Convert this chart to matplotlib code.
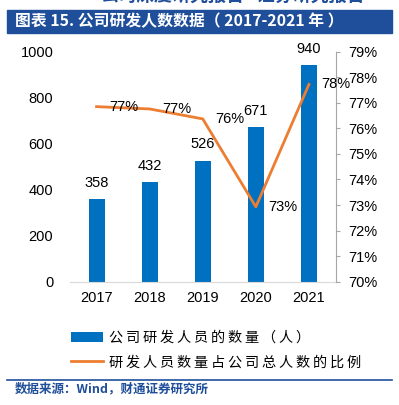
import matplotlib
matplotlib.use('Agg')
import matplotlib.pyplot as plt
import numpy as np

# donnees du graphique
annees = ['2017', '2018', '2019', '2020', '2021']
nb_rd = [358, 432, 526, 671, 940]
ratio_rd = [76.85, 76.76, 76.37, 72.93, 77.72]
ratio_labels = ['77%', '77%', '76%', '73%', '78%']
nom_barres = '公司研发人员的数量（人）'
nom_ligne = '研发人员数量占公司总人数的比例'

BLEU = '#0070C0'
ORANGE = '#ED7D31'
BLEU_TITRE = '#1F4E9A'
CJK = ['Noto Sans CJK SC', 'DejaVu Sans']
NUM = ['Liberation Sans', 'DejaVu Sans']


def espace(txt):
    # espacement des caracteres comme dans la legende d'origine
    return '\u2009'.join(txt)


fig = plt.figure(figsize=(3.99, 4.05), dpi=100)
W, H = 399, 405

# bandeau du titre
fig.patches.append(plt.Rectangle((7 / W, 1 - 33 / H), 385 / W, 23 / H,
                                 transform=fig.transFigure, color=BLEU_TITRE, zorder=0))
fig.text(15 / W, 1 - 21.5 / H, '图表 15. 公司研发人数数据（ 2017-2021 年 ）',
         color='white', fontsize=11.4, fontweight='bold', family=CJK, va='center')
# en-tete coupe en haut
fig.text(100 / W, 1 + 4 / H, '公司深度研究报告', color=BLEU_TITRE, fontsize=13,
         fontweight='bold', family=CJK, va='center')
fig.text(232 / W, 1 + 4 / H, '—  证券研究报告', color=BLEU_TITRE, fontsize=13,
         fontweight='bold', family=CJK, va='center')

ax = fig.add_axes([70 / W, 1 - 281.7 / H, 265.5 / W, 230 / H])
x = np.arange(len(annees))
barres = ax.bar(x, nb_rd, width=0.3, color=BLEU, label=espace(nom_barres), zorder=2)
ax.set_xlim(-0.5, 4.5)
ax.set_ylim(0, 1000)
ax.set_yticks(range(0, 1001, 200))
ax.set_xticks(x)
ax.set_xticklabels(annees)
for s in ['top', 'right', 'left']:
    ax.spines[s].set_visible(False)
ax.spines['bottom'].set_color('#D9D9D9')
ax.tick_params(axis='both', length=0, labelsize=10.5, pad=7)
ax.tick_params(axis='y', pad=12)
for lab in ax.get_xticklabels() + ax.get_yticklabels():
    lab.set_family(NUM)
for xi, v in zip(x, nb_rd):
    ax.annotate(str(v), (xi, v), xytext=(0, 12), textcoords='offset points',
                ha='center', va='center', fontsize=10.5, family=NUM)

ax2 = ax.twinx()
ligne, = ax2.plot(x, ratio_rd, color=ORANGE, lw=2, label=espace(nom_ligne), zorder=3)
ax2.set_ylim(70, 79)
ax2.set_yticks(range(70, 80))
ax2.set_yticklabels([f'{v}%' for v in range(70, 80)])
for s in ['top', 'left', 'bottom']:
    ax2.spines[s].set_visible(False)
ax2.spines['right'].set_color('#A6A6A6')
ax2.tick_params(axis='y', length=3, color='#A6A6A6', labelsize=10.5, pad=6)
for lab in ax2.get_yticklabels():
    lab.set_family(NUM)
for xi, v, t in zip(x, ratio_rd, ratio_labels):
    ax2.annotate(t, (xi, v), xytext=(9, 0), textcoords='offset points',
                 ha='left', va='center', fontsize=10.5, family=NUM)

fig.legend(handles=[barres, ligne], loc='upper left', bbox_to_anchor=(58 / W, 1 - 318 / H),
           frameon=False, prop={'family': CJK, 'size': 10.2}, handlelength=2.3,
           handletextpad=0.4, labelspacing=0.75)

# pied de page
fig.add_artist(plt.Line2D([7 / W, 392 / W], [1 - 379.5 / H, 1 - 379.5 / H],
                          transform=fig.transFigure, color=BLEU_TITRE, lw=1.2))
fig.text(15 / W, 1 - 389 / H, '数据来源：Wind，财通证券研究所', color=BLEU_TITRE,
         fontsize=9, fontweight='bold', family=CJK, va='center')

fig.savefig('out.png', dpi=100)
